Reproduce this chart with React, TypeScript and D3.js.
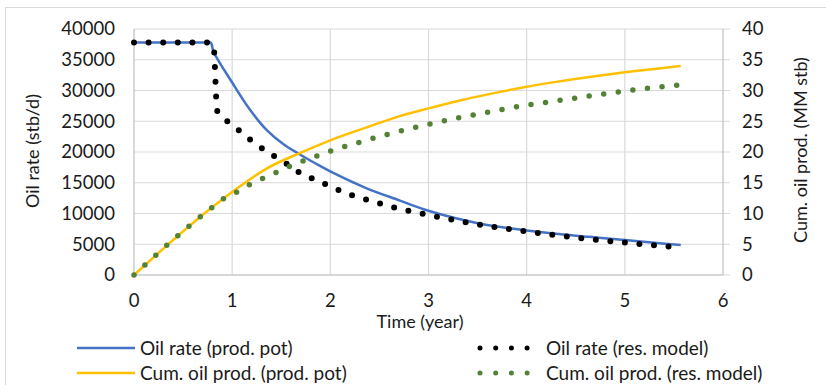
import * as d3 from "d3";

// ── Data ─────────────────────────────────────────────────────
// Oil rate, production potential (stb/d)
const potRateT = [0, 0.7, 0.78, 0.81, 1.0, 1.18, 1.35, 1.52, 1.69, 1.86, 2.03, 2.37, 2.71, 2.95, 3.29, 3.63, 4.0, 4.3, 4.64, 5.0, 5.3, 5.57];
const potRateV = [37800, 37800, 37800, 36300, 31300, 26900, 23600, 21300, 19600, 18050, 16600, 14100, 12100, 10700, 9200, 8050, 7250, 6700, 6200, 5700, 5250, 4880];

// Oil rate, reservoir model (stb/d)
const resRateT = [0, 0.78, 0.815, 0.83, 0.845, 0.9, 0.95, 1.07, 1.18, 1.3, 1.43, 1.56, 1.68, 1.82, 1.96, 2.1, 2.23, 2.38, 2.52, 2.67, 2.81, 3.11, 3.41, 3.7, 4.0, 4.3, 4.6, 5.05, 5.49, 5.55];
const resRateV = [37800, 37800, 36500, 31500, 26800, 25700, 25000, 23500, 22050, 20650, 19300, 18050, 16700, 15650, 14700, 13700, 12900, 12200, 11550, 10900, 10400, 9400, 8500, 7750, 7100, 6450, 5900, 5200, 4600, 4550];

// Cumulative oil, production potential (MM stb)
const potCumT = [0, 0.78, 1.0, 1.35, 1.7, 2.0, 2.37, 2.7, 3.0, 3.3, 3.63, 4.0, 4.3, 4.64, 5.0, 5.3, 5.57];
const potCumV = [0, 10.8, 13.5, 17.3, 19.9, 21.9, 24.0, 25.8, 27.1, 28.3, 29.45, 30.6, 31.4, 32.2, 32.95, 33.5, 34.0];

// Cumulative oil, reservoir model (MM stb)
const resCumT = [0, 0.78, 0.92, 1.05, 1.18, 1.31, 1.45, 1.59, 1.73, 1.87, 2.01, 2.3, 2.59, 3.03, 3.32, 3.62, 3.91, 4.21, 4.51, 4.95, 5.25, 5.55];
const resCumV = [0, 10.8, 12.5, 13.5, 14.7, 15.7, 16.7, 17.7, 18.6, 19.4, 20.2, 21.6, 22.9, 24.6, 25.6, 26.5, 27.4, 28.1, 28.8, 29.8, 30.4, 30.9];

const xTicks = [0, 1, 2, 3, 4, 5, 6];
const leftTicks = [0, 5000, 10000, 15000, 20000, 25000, 30000, 35000, 40000];
const rightTicks = [0, 5, 10, 15, 20, 25, 30, 35, 40];

// ── Layout ────────────────────────────────────────────────────
const W = 826, H = 385;
const X0 = 134, X1 = 723, Y0 = 275, Y1 = 29;
const FONT = "Lato, 'DejaVu Sans', sans-serif";
const GRID = "#d9d9d9";

const x = d3.scaleLinear().domain([0, 6]).range([X0, X1]);
const yL = d3.scaleLinear().domain([0, 40000]).range([Y0, Y1]);
const yR = d3.scaleLinear().domain([0, 40]).range([Y0, Y1]);

const zip = (t: number[], v: number[]) => t.map((d, i) => [d, v[i]] as [number, number]);

const lineL = d3.line<[number, number]>().x((d) => x(d[0])).y((d) => yL(d[1])).curve(d3.curveMonotoneX);
const smoothL = d3.line<[number, number]>().x((d) => x(d[0])).y((d) => yL(d[1])).curve(d3.curveCatmullRom.alpha(0.5));
const lineR = d3.line<[number, number]>().x((d) => x(d[0])).y((d) => yR(d[1])).curve(d3.curveMonotoneX);

export default function App() {
  return (
    <svg width={W} height={H} style={{ position: "absolute", left: 0, top: 0, background: "#fff" }}
      fontFamily={FONT}>
      <rect x={5.5} y={7.5} width={840} height={400} fill="none" stroke={GRID} />

      {/* grid */}
      {leftTicks.map((t) => (
        <line key={"h" + t} x1={X0} x2={X1 + 7} y1={yL(t)} y2={yL(t)} stroke={GRID} strokeWidth={1.2} />
      ))}
      {xTicks.map((t) => (
        <line key={"v" + t} x1={x(t)} x2={x(t)} y1={Y1} y2={Y0} stroke={t === 0 || t === 6 ? "#bfbfbf" : GRID} strokeWidth={1.2} />
      ))}
      <line x1={X0} x2={X1} y1={Y0} y2={Y0} stroke="#bfbfbf" strokeWidth={1.2} />

      {/* series */}
      <path d={smoothL(zip(potRateT, potRateV)) ?? ""} fill="none" stroke="#4472c4" strokeWidth={2.5} />
      <path d={lineL(zip(resRateT, resRateV)) ?? ""} fill="none" stroke="#000" strokeWidth={6}
        strokeLinecap="round" strokeDasharray="0 14.6" />
      <path d={lineR(zip(potCumT, potCumV)) ?? ""} fill="none" stroke="#ffc000" strokeWidth={2.5} />
      <path d={lineR(zip(resCumT, resCumV)) ?? ""} fill="none" stroke="#548235" strokeWidth={5.5}
        strokeLinecap="round" strokeDasharray="0 14.7" />

      {/* axis labels */}
      <g fontSize={18.5} fill="#1a1a1a">
        {leftTicks.map((t) => (
          <text key={"l" + t} x={115} y={yL(t)} dy="0.35em" textAnchor="end">{t}</text>
        ))}
        {rightTicks.map((t) => (
          <text key={"r" + t} x={742} y={yR(t)} dy="0.35em">{t}</text>
        ))}
        {xTicks.map((t) => (
          <text key={"x" + t} x={x(t)} y={301} dy="0.35em" textAnchor="middle">{t}</text>
        ))}
      </g>
      <g fontSize={18} fill="#1a1a1a">
        <text x={420} y={322} dy="0.35em" textAnchor="middle">Time (year)</text>
        <text transform="translate(33,151) rotate(-90)" dy="0.35em" textAnchor="middle">Oil rate (stb/d)</text>
        <text transform="translate(801,150) rotate(-90)" dy="0.35em" textAnchor="middle">Cum. oil prod. (MM stb)</text>
      </g>

      {/* legend */}
      <g fontSize={19} fill="#1a1a1a">
        <line x1={77} x2={135} y1={348} y2={348} stroke="#4472c4" strokeWidth={2.5} />
        <text x={140} y={348} dy="0.35em">Oil rate (prod. pot)</text>
        <line x1={77} x2={135} y1={373} y2={373} stroke="#ffc000" strokeWidth={2.5} />
        <text x={140} y={373} dy="0.35em">Cum. oil prod. (prod. pot)</text>
        <line x1={480} x2={528} y1={348} y2={348} stroke="#000" strokeWidth={5} strokeLinecap="round" strokeDasharray="0 15.7" />
        <text x={546} y={348} dy="0.35em">Oil rate (res. model)</text>
        <line x1={480} x2={528} y1={373} y2={373} stroke="#548235" strokeWidth={5} strokeLinecap="round" strokeDasharray="0 15.7" />
        <text x={546} y={373} dy="0.35em">Cum. oil prod. (res. model)</text>
      </g>
    </svg>
  );
}
